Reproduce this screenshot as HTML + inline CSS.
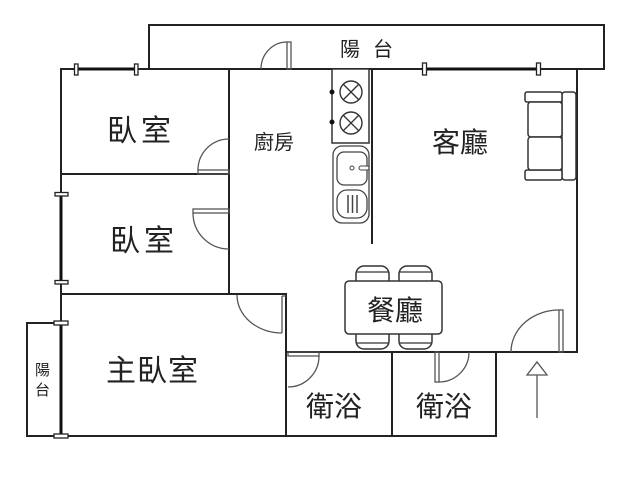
<!DOCTYPE html>
<html>
<head>
<meta charset="utf-8">
<style>
  html, body { margin: 0; padding: 0; background: #fff; }
  svg { display: block; }
  .wall { stroke: #222; stroke-width: 2; fill: none; stroke-linecap: square; }
  .win { stroke: #111; stroke-width: 3; fill: none; }
  .tick { stroke: #222; stroke-width: 1.3; fill: #fff; }
  .door { stroke: #555; stroke-width: 1.3; fill: none; }
  .furn { stroke: #333; stroke-width: 1.5; fill: #fff; }
  .lbl { font-family: "Liberation Sans", "Noto Sans CJK TC", "Noto Sans CJK SC", sans-serif; fill: #222; }
</style>
</head>
<body>
<svg width="640" height="480" viewBox="0 0 640 480" xmlns="http://www.w3.org/2000/svg">
  <rect x="0" y="0" width="640" height="480" fill="#fff"/>

  <!-- Top balcony -->
  <polyline class="wall" points="149,69 149,25 604,25 604,69"/>
  <line class="wall" x1="61" y1="69" x2="604" y2="69"/>

  <!-- Outer / interior walls -->
  <line class="wall" x1="61" y1="69" x2="61" y2="436"/>
  <line class="wall" x1="27" y1="436" x2="286" y2="436"/>
  <polyline class="wall" points="61,323 27,323 27,436"/>
  <line class="wall" x1="61" y1="174" x2="229" y2="174"/>
  <line class="wall" x1="229" y1="69" x2="229" y2="294"/>
  <line class="wall" x1="61" y1="294" x2="286" y2="294"/>
  <line class="wall" x1="286" y1="294" x2="286" y2="436"/>
  <line class="wall" x1="286" y1="352" x2="577" y2="352"/>
  <line class="wall" x1="392" y1="352" x2="392" y2="436"/>
  <line class="wall" x1="496" y1="352" x2="496" y2="436"/>
  <line class="wall" x1="286" y1="436" x2="496" y2="436"/>
  <line class="wall" x1="577" y1="69" x2="577" y2="352"/>
  <line class="wall" x1="372" y1="69" x2="372" y2="243"/>

  <!-- Windows -->
  <line class="win" x1="76" y1="69" x2="136" y2="69"/>
  <rect class="tick" x="74.5" y="64" width="3.5" height="11"/>
  <rect class="tick" x="134.5" y="64" width="3.5" height="11"/>

  <line class="win" x1="424" y1="69" x2="538" y2="69"/>
  <rect class="tick" x="422.5" y="63" width="4" height="12"/>
  <rect class="tick" x="536.5" y="63" width="4" height="12"/>

  <line class="win" x1="61" y1="194" x2="61" y2="282"/>
  <rect class="tick" x="55" y="192.5" width="13" height="3.5"/>
  <rect class="tick" x="55" y="280.5" width="13" height="3.5"/>

  <line class="win" x1="61" y1="323" x2="61" y2="436"/>
  <rect class="tick" x="54" y="321" width="14" height="4"/>
  <rect class="tick" x="54" y="434" width="14" height="4"/>

  <!-- Doors -->
  <!-- balcony door -->
  <rect class="door" x="287" y="42" width="4" height="27" fill="#fff"/>
  <path class="door" d="M 261 69 A 26 27 0 0 1 287 42"/>
  <!-- bedroom 1 door -->
  <rect class="door" x="198" y="170" width="31" height="4"/>
  <path class="door" d="M 198 170 A 31 31 0 0 1 229 139"/>
  <!-- bedroom 2 door -->
  <rect class="door" x="193" y="209" width="36" height="4"/>
  <path class="door" d="M 193 213 A 36 36 0 0 0 229 249"/>
  <!-- master bedroom door -->
  <line class="door" x1="282" y1="296" x2="282" y2="333"/>
  <line class="door" x1="282" y1="296" x2="286" y2="296"/>
  <path class="door" d="M 237 295 A 45 38 0 0 0 282 333"/>
  <!-- left bathroom door -->
  <rect class="door" x="288" y="352" width="31" height="4"/>
  <path class="door" d="M 319 356 A 31 31 0 0 1 288 387"/>
  <!-- right bathroom door -->
  <rect class="door" x="435" y="352" width="4" height="30"/>
  <path class="door" d="M 439 382 A 30 30 0 0 0 469 352"/>
  <!-- entrance door -->
  <rect class="door" x="559" y="310" width="4" height="42"/>
  <path class="door" d="M 559 310 A 48 42 0 0 0 511 352"/>

  <!-- Entrance arrow -->
  <line x1="537" y1="375" x2="537" y2="418" stroke="#555" stroke-width="1.3"/>
  <polygon points="527,375 537,362 547,375" fill="none" stroke="#555" stroke-width="1.3"/>

  <!-- Stove -->
  <rect x="332" y="69" width="37" height="74" fill="#fff" stroke="#333" stroke-width="1.5"/>
  <circle cx="351" cy="92" r="11" fill="none" stroke="#333" stroke-width="1.4"/>
  <line x1="343" y1="84" x2="359" y2="100" stroke="#333" stroke-width="1.3"/>
  <line x1="359" y1="84" x2="343" y2="100" stroke="#333" stroke-width="1.3"/>
  <circle cx="351" cy="123" r="11" fill="none" stroke="#333" stroke-width="1.4"/>
  <line x1="343" y1="115" x2="359" y2="131" stroke="#333" stroke-width="1.3"/>
  <line x1="359" y1="115" x2="343" y2="131" stroke="#333" stroke-width="1.3"/>
  <circle cx="332" cy="92" r="2.5" fill="#111"/>
  <circle cx="332" cy="122" r="2.5" fill="#111"/>

  <!-- Sink -->
  <rect x="333" y="146" width="36" height="77" rx="9" fill="#fff" stroke="#444" stroke-width="1.3"/>
  <rect x="337" y="152" width="30" height="33" rx="7" fill="none" stroke="#444" stroke-width="1.3"/>
  <circle cx="352" cy="168" r="2" fill="none" stroke="#444" stroke-width="1"/>
  <rect x="359" y="166" width="10" height="4" rx="2" fill="#fff" stroke="#444" stroke-width="1"/>
  <rect x="337" y="190" width="30" height="28" rx="10" fill="none" stroke="#444" stroke-width="1.3"/>
  <line x1="348" y1="195" x2="348" y2="213" stroke="#444" stroke-width="1.5"/>
  <line x1="352.5" y1="195" x2="352.5" y2="213" stroke="#444" stroke-width="1.5"/>
  <line x1="357" y1="195" x2="357" y2="213" stroke="#444" stroke-width="1.5"/>

  <!-- Sofa -->
  <rect class="furn" x="562" y="92" width="14" height="88" rx="3"/>
  <rect class="furn" x="525" y="92" width="37" height="10" rx="2"/>
  <rect class="furn" x="525" y="170" width="37" height="10" rx="2"/>
  <rect class="furn" x="528" y="102" width="34" height="35" rx="3"/>
  <rect class="furn" x="528" y="137" width="34" height="33" rx="3"/>

  <!-- Dining chairs -->
  <rect class="furn" x="356" y="266" width="33" height="22" rx="8"/>
  <line x1="357" y1="272" x2="388" y2="272" stroke="#333" stroke-width="1.3"/>
  <rect class="furn" x="399" y="266" width="33" height="22" rx="8"/>
  <line x1="400" y1="272" x2="431" y2="272" stroke="#333" stroke-width="1.3"/>
  <rect class="furn" x="356" y="327" width="33" height="22" rx="8"/>
  <line x1="357" y1="343" x2="388" y2="343" stroke="#333" stroke-width="1.3"/>
  <rect class="furn" x="399" y="327" width="33" height="22" rx="8"/>
  <line x1="400" y1="343" x2="431" y2="343" stroke="#333" stroke-width="1.3"/>
  <!-- Dining table -->
  <rect class="furn" x="345" y="281" width="97" height="53" rx="4"/>

  <!-- Labels -->
  <text class="lbl" x="340" y="56" font-size="20">陽</text>
  <text class="lbl" x="373" y="56" font-size="20">台</text>

  <text class="lbl" x="107" y="141" font-size="30" letter-spacing="4">臥室</text>
  <text class="lbl" x="110" y="251" font-size="30" letter-spacing="4">臥室</text>
  <text class="lbl" x="106" y="381" font-size="30" letter-spacing="1">主臥室</text>
  <text class="lbl" x="254" y="149" font-size="20" fill="#333">廚房</text>
  <text class="lbl" x="432" y="152" font-size="28">客廳</text>
  <text class="lbl" x="367" y="320" font-size="28">餐廳</text>
  <text class="lbl" x="306" y="416" font-size="28">衛浴</text>
  <text class="lbl" x="416" y="416" font-size="28">衛浴</text>

  <text class="lbl" x="35" y="375" font-size="15" fill="#555">陽</text>
  <text class="lbl" x="35" y="395" font-size="15" fill="#555">台</text>
</svg>
</body>
</html>
